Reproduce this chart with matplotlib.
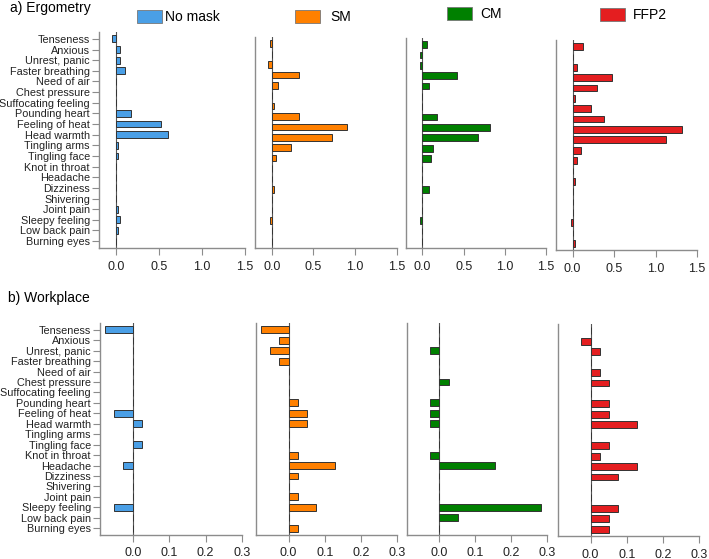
import matplotlib
matplotlib.use("Agg")
import matplotlib.pyplot as plt
from matplotlib.patches import Rectangle
import numpy as np

plt.rcParams['font.family'] = ['Liberation Sans', 'DejaVu Sans']

symptoms = ["Tenseness", "Anxious", "Unrest, panic", "Faster breathing", "Need of air",
            "Chest pressure", "Suffocating feeling", "Pounding heart", "Feeling of heat",
            "Head warmth", "Tingling arms", "Tingling face", "Knot in throat", "Headache",
            "Dizziness", "Shivering", "Joint pain", "Sleepy feeling", "Low back pain",
            "Burning eyes"]

groups = ["No mask", "SM", "CM", "FFP2"]
colors = ["#4a9fe6", "#ff8000", "#008000", "#e41e20"]

# a) Ergometry
ergo_nomask = [-0.05, 0.05, 0.05, 0.10, 0, 0, 0, 0.175, 0.525, 0.60,
               0.025, 0.025, 0, 0, 0, 0, 0.025, 0.05, 0.025, 0]
ergo_sm = [-0.025, 0, -0.05, 0.325, 0.075, 0, 0.025, 0.325, 0.90, 0.725,
           0.225, 0.05, 0, 0, 0.025, 0, 0, -0.025, 0, 0]
ergo_cm = [0.05, -0.025, -0.025, 0.425, 0.075, 0, 0, 0.175, 0.825, 0.675,
           0.125, 0.10, 0, 0, 0.075, 0, 0, -0.025, 0, 0]
ergo_ffp2 = [0.125, 0, 0.05, 0.475, 0.30, 0.025, 0.225, 0.375, 1.325, 1.125,
             0.10, 0.05, 0, 0.025, 0, 0, 0, -0.025, 0, 0.025]

# b) Workplace
work_nomask = [-0.077, 0, 0, 0, 0, 0, 0, 0, -0.051, 0.026,
               0, 0.026, 0, -0.026, 0, 0, 0, -0.051, 0, 0]
work_sm = [-0.077, -0.026, -0.051, -0.026, 0, 0, 0, 0.026, 0.051, 0.051,
           0, 0, 0.026, 0.128, 0.026, 0, 0.026, 0.077, 0, 0.026]
work_cm = [0, 0, -0.026, 0, 0, 0.026, 0, -0.026, -0.026, -0.026,
           0, 0, -0.026, 0.154, 0, 0, 0, 0.282, 0.051, 0]
work_ffp2 = [0, -0.026, 0.026, 0, 0.026, 0.051, 0, 0.051, 0.051, 0.128,
             0, 0.051, 0.026, 0.128, 0.077, 0, 0, 0.077, 0.051, 0.051]

ergo = [ergo_nomask, ergo_sm, ergo_cm, ergo_ffp2]
work = [work_nomask, work_sm, work_cm, work_ffp2]

W, H = 709, 559
fig = plt.figure(figsize=(W / 100, H / 100), dpi=100)


def rect(l, t, r, b):
    return [l / W, 1 - b / H, (r - l) / W, (b - t) / H]


# panel boxes in pixels (left, top, right, bottom)
top_boxes = [(99, 32, 245, 248), (255, 37, 397, 248), (406, 38, 546, 248), (556, 40, 697, 250)]
bot_boxes = [(100, 323, 242, 535), (256, 323, 397, 535), (407, 323, 547, 535), (558, 324, 699, 536)]

y = np.arange(len(symptoms))
spine_col = "#8c8c8c"


def draw_panel(box, vals, col, xlim, xticks, xticklabels, first):
    ax = fig.add_axes(rect(*box))
    ax.barh(y, vals, height=0.65, color=col, edgecolor="#333333", linewidth=0.7, zorder=3)
    ax.axvline(0, color="#555555", linewidth=0.8, zorder=2)
    ax.set_xlim(xlim)
    ax.set_ylim(len(symptoms) - 0.35, -0.65)
    ax.set_xticks(xticks)
    ax.set_xticklabels(xticklabels, fontsize=9, color="#222222")
    for s in ["top", "right"]:
        ax.spines[s].set_visible(False)
    for s in ["left", "bottom"]:
        ax.spines[s].set_color(spine_col)
        ax.spines[s].set_linewidth(1.0)
    ax.tick_params(axis="x", direction="out", length=5, color=spine_col, pad=4)
    if first:
        ax.set_yticks(y)
        ax.set_yticklabels(symptoms, fontsize=7.8, color="#222222")
        ax.tick_params(axis="y", direction="out", length=5, color=spine_col, pad=1.5)
    else:
        ax.set_yticks([])
    return ax


for i in range(4):
    draw_panel(top_boxes[i], ergo[i], colors[i], (-0.2, 1.5),
               [0, 0.5, 1.0, 1.5], ["0.0", "0.5", "1.0", "1.5"], i == 0)
    draw_panel(bot_boxes[i], work[i], colors[i], (-0.09, 0.3),
               [0, 0.1, 0.2, 0.3], ["0.0", "0.1", "0.2", "0.3"], i == 0)

fig.text(10 / W, 1 - 8 / H, "a) Ergometry", fontsize=10, va="center", ha="left")
fig.text(8 / W, 1 - 298 / H, "b) Workplace", fontsize=10, va="center", ha="left")

# legend boxes above each column
leg_pos = [(137, 10, 165), (295, 10, 330), (447, 7, 480), (600, 8, 633)]
for (bx, by, tx), lab, col in zip(leg_pos, groups, colors):
    fig.add_artist(Rectangle((bx / W, 1 - (by + 13) / H), 25 / W, 13 / H,
                             transform=fig.transFigure, facecolor=col,
                             edgecolor="#777777", linewidth=0.6))
    fig.text(tx / W, 1 - (by + 7) / H, lab, fontsize=10, va="center", ha="left")

fig.savefig("out.png", dpi=100)
